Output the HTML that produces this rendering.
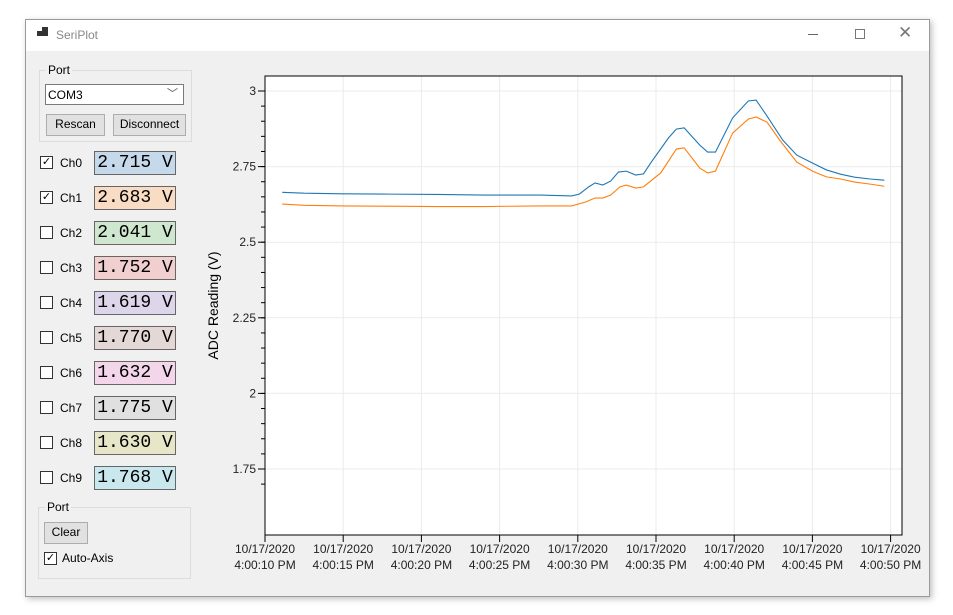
<!DOCTYPE html>
<html><head><meta charset="utf-8"><style>
body{margin:0;width:953px;height:615px;background:#fff;position:relative;overflow:hidden;font-family:"Liberation Sans",sans-serif;font-size:12px;color:#000}
.abs{position:absolute}
#win{left:25px;top:19px;width:903px;height:576px;border:1px solid #9a9a9a;background:#f0f0f0;box-shadow:2px 2px 6px rgba(0,0,0,.25)}
#title{left:0;top:0;width:903px;height:31px;background:#fff}
.grp{border:1px solid #dcdcdc}
.btn{background:#e1e1e1;border:1px solid #adadad;text-align:center;line-height:19px;font-size:12px}
.cb{width:11px;height:11px;border:1px solid #333;background:#fff}
.val{width:80px;height:22px;border:1px solid #666;font-family:"Liberation Mono",monospace;font-size:18px;line-height:22px;text-align:center}
.lbl{font-size:12px}
</style></head><body>
<div id="win" class="abs">
 <div id="title" class="abs">
  <div class="abs" style="left:11px;top:11px;width:5px;height:5px;background:#333"></div>
  <div class="abs" style="left:16px;top:7px;width:6px;height:9px;background:#333"></div>
  <div class="abs" style="left:30px;top:8px;color:#888;font-size:12px">SeriPlot</div>
  <div class="abs" style="left:782px;top:14px;width:10px;height:1px;background:#666"></div>
  <div class="abs" style="left:829px;top:9px;width:8px;height:8px;border:1px solid #777"></div>
  <div class="abs" style="left:872px;top:3px;font-size:17px;color:#777">✕</div>
 </div>
</div>
<div class="abs grp" style="left:39px;top:70px;width:151px;height:70px"></div>
<div class="abs lbl" style="left:46px;top:63px;background:#f0f0f0;padding:0 2px">Port</div>
<div class="abs" style="left:45px;top:84px;width:139px;height:21px;background:#fff;border:1px solid #7a7a7a;line-height:21px;padding-left:2px;box-sizing:border-box">COM3<span style="position:absolute;right:5px;top:-1px;color:#555;font-size:11px">﹀</span></div>
<div class="abs btn" style="left:46px;top:114px;width:57px;height:20px">Rescan</div>
<div class="abs btn" style="left:113px;top:114px;width:71px;height:20px">Disconnect</div>
<div id="chans"></div>
<div class="abs grp" style="left:38px;top:507px;width:151px;height:70px"></div>
<div class="abs lbl" style="left:45px;top:500px;background:#f0f0f0;padding:0 2px">Port</div>
<div class="abs btn" style="left:44px;top:522px;width:42px;height:20px">Clear</div>
<div class="abs cb" style="left:44px;top:552px;font-size:11px;line-height:11px;text-align:center">✓</div>
<div class="abs lbl" style="left:62px;top:551px">Auto-Axis</div>
<svg class="abs" style="left:0;top:0" width="953" height="615" id="chart"></svg>
<script>
const chNames=["Ch0","Ch1","Ch2","Ch3","Ch4","Ch5","Ch6","Ch7","Ch8","Ch9"];
const chValues=["2.715 V","2.683 V","2.041 V","1.752 V","1.619 V","1.770 V","1.632 V","1.775 V","1.630 V","1.768 V"];
const chColors=["#c6d9ea","#f9dcc4","#cfe6cf","#f2cfcf","#ddd6ea","#e3d8d5","#f4d6ea","#e0e0e0","#e8e6c8","#c8e8ee"];
const chChecked=[true,true,false,false,false,false,false,false,false,false];
const chans=document.getElementById('chans');
chNames.forEach((n,i)=>{
  const y=163+35*i;
  const cb=document.createElement('div');cb.className='abs cb';
  cb.style.cssText=`left:40px;top:${y-7}px;font-size:11px;line-height:11px;text-align:center`;
  cb.textContent=chChecked[i]?'✓':'';
  
  
  chans.appendChild(cb);
  const l=document.createElement('div');l.className='abs lbl';
  l.style.cssText=`left:60px;top:${y-7}px`;l.textContent=n;
  
  
  chans.appendChild(l);
  const v=document.createElement('div');v.className='abs val';
  v.style.cssText=`left:94px;top:${y-12}px;background:${chColors[i]}`;v.textContent=chValues[i];
  
  
  chans.appendChild(v);
});
</script>
<script>
const blueT=[11.1,12.5,15,18,21,24,27.6,29.6,30.1,30.7,31.1,31.6,32.1,32.6,33.1,33.7,34.2,34.7,35.8,36.3,36.8,37.8,38.3,38.8,39.9,40.9,41.4,42.1,43.1,44.0,45.0,45.9,46.8,47.7,48.7,49.6];
const blueV=[2.665,2.662,2.660,2.659,2.658,2.656,2.656,2.653,2.659,2.683,2.696,2.689,2.702,2.732,2.735,2.722,2.726,2.765,2.845,2.874,2.878,2.821,2.798,2.798,2.911,2.967,2.970,2.917,2.838,2.788,2.762,2.739,2.725,2.715,2.709,2.705];
const orangeT=[11.1,12.5,15,18,21,24,27.6,29.6,30.5,31.1,31.6,32.1,32.7,33.1,33.7,34.2,35.3,36.3,36.8,37.8,38.3,38.8,39.9,40.9,41.4,42.1,42.9,44.0,45.0,45.9,46.8,47.7,48.7,49.6];
const orangeV=[2.626,2.622,2.620,2.619,2.618,2.618,2.620,2.620,2.633,2.646,2.646,2.656,2.683,2.689,2.679,2.683,2.729,2.808,2.812,2.745,2.729,2.735,2.861,2.907,2.914,2.897,2.838,2.765,2.735,2.716,2.709,2.699,2.692,2.685];
const yTicks=[1.75,2,2.25,2.5,2.75,3];
const yTickLabels=["1.75","2","2.25","2.5","2.75","3"];
const xTicks=[10,15,20,25,30,35,40,45,50];
const xTickLabels=["4:00:10 PM","4:00:15 PM","4:00:20 PM","4:00:25 PM","4:00:30 PM","4:00:35 PM","4:00:40 PM","4:00:45 PM","4:00:50 PM"];
const L=265,R=902,T=76,B=535;
const xs=t=>265+(t-10)*15.64;
const ys=v=>91+(3-v)*302.4;
const svg=document.getElementById('chart');
const NS='http://www.w3.org/2000/svg';
function mk(tag,attrs){const e=document.createElementNS(NS,tag);for(const k in attrs)e.setAttribute(k,attrs[k]);svg.appendChild(e);return e;}
const bg=mk('rect',{x:L,y:T,width:R-L,height:B-T,fill:'#fff'});


yTicks.forEach((v,i)=>{
  const g=mk('line',{x1:L,x2:R,y1:ys(v),y2:ys(v),stroke:'#ebebeb'});
  
  
  mk('line',{x1:L-7,x2:L,y1:ys(v),y2:ys(v),stroke:'#000'});
  const t=mk('text',{x:L-9,y:ys(v)+4,'text-anchor':'end','font-size':12,fill:'#222','font-family':'Liberation Sans, sans-serif'});
  t.textContent=yTickLabels[i];
  
  
});
for(let v=1.70;v<=3.05;v+=0.05){const y=ys(v);if(y>T&&y<B)mk('line',{x1:L-4,x2:L,y1:y,y2:y,stroke:'#000'});}
xTicks.forEach((s,i)=>{
  const x=xs(s);
  const g=mk('line',{x1:x,x2:x,y1:T,y2:B,stroke:'#ebebeb'});
  
  
  mk('line',{x1:x,x2:x,y1:B,y2:B+7,stroke:'#000'});
  const t=mk('text',{x:x,y:B+18,'text-anchor':'middle','font-size':12,fill:'#222','font-family':'Liberation Sans, sans-serif'});
  t.textContent='10/17/2020';
  
  
  const t2=mk('text',{x:x,y:B+34,'text-anchor':'middle','font-size':12,fill:'#222','font-family':'Liberation Sans, sans-serif'});
  t2.textContent=xTickLabels[i];
  
  
});
const fr=mk('rect',{x:L,y:T,width:R-L,height:B-T,fill:'none',stroke:'#000','stroke-width':1});


const yl=mk('text',{x:0,y:0,transform:`translate(218,${(T+B)/2}) rotate(-90)`,'text-anchor':'middle','font-size':14,fill:'#000','font-family':'Liberation Sans, sans-serif'});
yl.textContent='ADC Reading (V)';


const pb=mk('polyline',{points:blueT.map((t,i)=>xs(t)+','+ys(blueV[i])).join(' '),fill:'none',stroke:'#1f77b4','stroke-width':1.1});


const po=mk('polyline',{points:orangeT.map((t,i)=>xs(t)+','+ys(orangeV[i])).join(' '),fill:'none',stroke:'#ff7f0e','stroke-width':1.1});


</script>
</body></html>
